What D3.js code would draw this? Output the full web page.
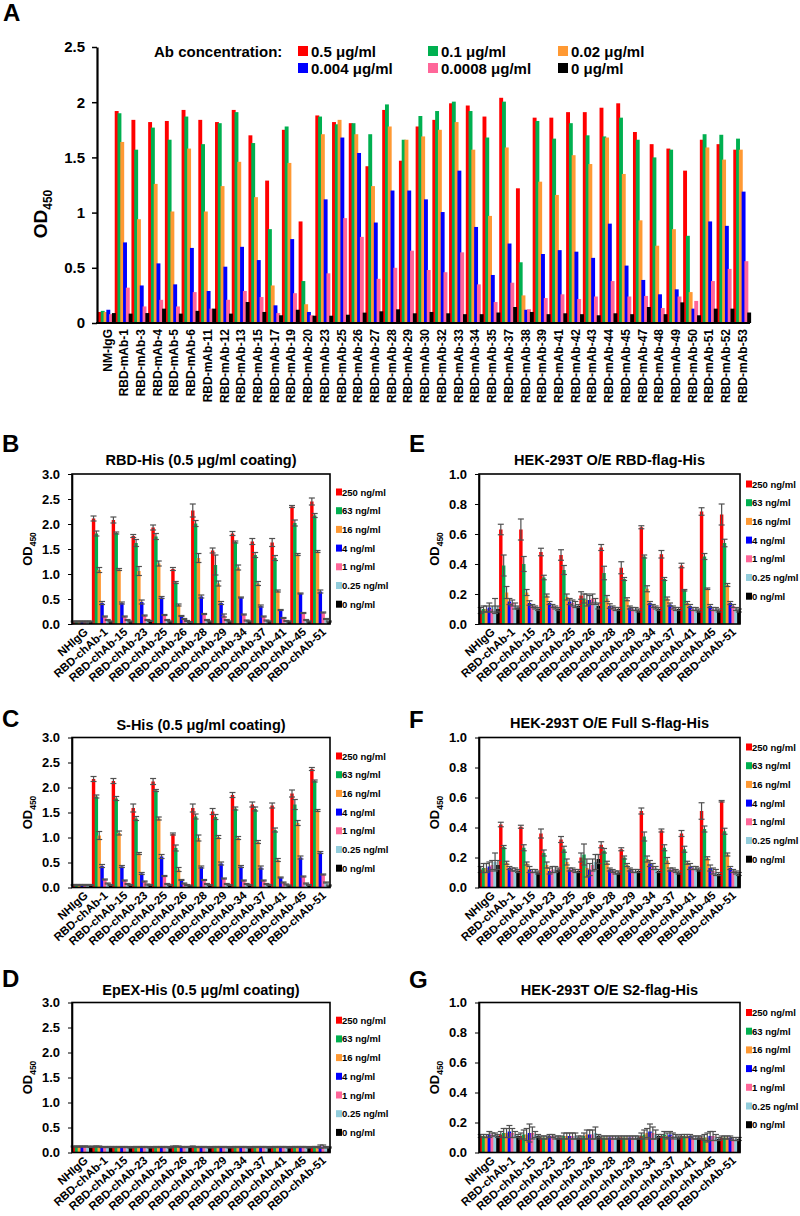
<!DOCTYPE html>
<html><head><meta charset="utf-8">
<script src="https://cdn.jsdelivr.net/npm/d3@7"></script>
<style>
body{margin:0;background:#fff}
svg{display:block}
text{font-family:"Liberation Sans",Arial,sans-serif;font-weight:bold;fill:#000}
</style>
</head><body>
<svg id="c" width="800" height="1216"></svg>
<script>
// ---------------- Panel A data ----------------
const catsA = ["NM-IgG","RBD-mAb-1","RBD-mAb-3","RBD-mAb-4","RBD-mAb-5","RBD-mAb-6","RBD-mAb-11","RBD-mAb-12","RBD-mAb-13","RBD-mAb-15","RBD-mAb-17","RBD-mAb-19","RBD-mAb-20","RBD-mAb-23","RBD-mAb-25","RBD-mAb-26","RBD-mAb-27","RBD-mAb-28","RBD-mAb-29","RBD-mAb-30","RBD-mAb-32","RBD-mAb-33","RBD-mAb-34","RBD-mAb-35","RBD-mAb-37","RBD-mAb-38","RBD-mAb-39","RBD-mAb-41","RBD-mAb-42","RBD-mAb-43","RBD-mAb-44","RBD-mAb-45","RBD-mAb-47","RBD-mAb-48","RBD-mAb-49","RBD-mAb-50","RBD-mAb-51","RBD-mAb-52","RBD-mAb-53"];
const concA = ["0.5 μg/ml","0.1 μg/ml","0.02 μg/ml","0.004 μg/ml","0.0008 μg/ml","0 μg/ml"];
const colorsA = ["#ff0000","#00b050","#ff9933","#0000ff","#ff6699","#000000"];
const A_05    = [0.10,1.92,1.84,1.82,1.83,1.93,1.84,1.82,1.93,1.70,1.29,1.75,0.92,1.88,1.82,1.81,1.42,1.93,1.47,1.78,1.84,1.99,1.97,1.87,2.04,1.22,1.86,1.86,1.91,1.91,1.95,1.99,1.73,1.62,1.58,1.38,1.66,1.62,1.57];
const A_01    = [0.11,1.90,1.57,1.77,1.66,1.87,1.62,1.81,1.91,1.63,0.85,1.78,0.38,1.87,1.80,1.81,1.71,1.98,1.66,1.875,1.92,2.005,1.92,1.68,2.005,0.55,1.83,1.67,1.81,1.70,1.69,1.86,1.66,1.50,1.57,0.79,1.71,1.705,1.67];
const A_002   = [0.10,1.64,0.94,1.26,1.01,1.58,1.01,1.24,1.46,1.14,0.34,1.45,0.17,1.71,1.84,1.71,1.24,1.78,1.66,1.69,1.75,1.82,1.57,0.97,1.59,0.25,1.28,1.16,1.52,1.44,1.68,1.35,0.93,0.70,0.85,0.28,1.59,1.48,1.57];
const A_0004  = [0.12,0.73,0.34,0.54,0.35,0.68,0.29,0.51,0.69,0.57,0.16,0.76,0.10,1.12,1.68,1.54,0.91,1.20,1.20,1.12,1.005,1.38,0.87,0.435,0.72,0.12,0.625,0.66,0.646,0.59,0.90,0.52,0.39,0.26,0.305,0.13,0.92,0.88,1.19];
const A_00008 = [0.08,0.32,0.15,0.21,0.15,0.28,0.13,0.21,0.29,0.235,0.09,0.27,0.07,0.45,0.95,0.78,0.40,0.50,0.655,0.48,0.46,0.64,0.35,0.19,0.365,0.125,0.226,0.26,0.217,0.24,0.38,0.24,0.245,0.136,0.24,0.20,0.38,0.49,0.56];
const A_0     = [0.09,0.085,0.09,0.13,0.085,0.11,0.13,0.085,0.19,0.10,0.07,0.12,0.066,0.066,0.075,0.094,0.106,0.124,0.088,0.10,0.088,0.08,0.08,0.095,0.145,0.10,0.08,0.088,0.08,0.07,0.088,0.08,0.145,0.08,0.187,0.07,0.13,0.13,0.095];
const ticksA = [0,0.5,1,1.5,2,2.5];

// ---------------- Panels B-G data ----------------
const catsCh = ["NHIgG","RBD-chAb-1","RBD-chAb-15","RBD-chAb-23","RBD-chAb-25","RBD-chAb-26","RBD-chAb-28","RBD-chAb-29","RBD-chAb-34","RBD-chAb-37","RBD-chAb-41","RBD-chAb-45","RBD-chAb-51"];
const concCh = ["250 ng/ml","63 ng/ml","16 ng/ml","4 ng/ml","1 ng/ml","0.25 ng/ml","0 ng/ml"];
const colorsCh = ["#ff0000","#00b050","#ff9933","#0000ff","#ff6699","#92cddc","#000000"];
const ticksLeft = [0,0.5,1,1.5,2,2.5,3];
const ticksRight = [0,0.2,0.4,0.6,0.8,1.0];

// B: RBD-His
const B_values = [
  [0.05,2.11,2.08,1.76,1.93,1.10,2.27,1.47,1.81,1.65,1.63,2.35,2.45],
  [0.05,1.81,1.82,1.62,1.75,0.83,2.01,1.18,1.64,1.38,1.32,2.02,2.17],
  [0.05,1.08,1.09,1.06,1.21,0.38,1.32,0.81,1.13,0.81,0.66,1.39,1.45],
  [0.05,0.42,0.42,0.44,0.53,0.16,0.55,0.42,0.53,0.36,0.28,0.61,0.65],
  [0.05,0.15,0.15,0.17,0.18,0.10,0.20,0.17,0.19,0.15,0.12,0.22,0.23],
  [0.05,0.08,0.08,0.08,0.08,0.06,0.08,0.08,0.07,0.07,0.06,0.08,0.10],
  [0.05,0.05,0.05,0.06,0.05,0.04,0.05,0.05,0.05,0.05,0.05,0.05,0.05]];
const B_errors = [
  [0.01,0.05,0.06,0.03,0.05,0.03,0.13,0.05,0.04,0.06,0.08,0.02,0.07],
  [0.01,0.05,0.02,0.07,0.06,0.02,0.06,0.20,0.02,0.05,0.05,0.06,0.04],
  [0.01,0.05,0.02,0.09,0.05,0.02,0.09,0.05,0.05,0.04,0.02,0.02,0.02],
  [0.01,0.03,0.02,0.04,0.02,0.01,0.03,0.03,0.01,0.02,0.01,0.01,0.03],
  [0.01,0.01,0.01,0.01,0.01,0.01,0.01,0.03,0.01,0.01,0.01,0.01,0.01],
  [0.01,0.01,0.01,0.01,0.01,0.01,0.01,0.01,0.01,0.01,0.01,0.01,0.01],
  [0.01,0.01,0.01,0.01,0.01,0.01,0.01,0.01,0.01,0.01,0.01,0.01,0.01]];

// C: S-His
const C_values = [
  [0.05,2.17,2.13,1.59,2.12,1.07,1.59,1.52,1.85,1.66,1.64,1.88,2.37],
  [0.05,1.82,1.78,1.38,1.94,0.79,1.42,1.41,1.58,1.57,1.15,1.66,2.13],
  [0.05,1.04,1.09,0.68,1.38,0.36,0.99,1.01,0.99,0.91,0.55,1.29,1.54],
  [0.05,0.43,0.42,0.28,0.62,0.15,0.41,0.48,0.42,0.40,0.20,0.60,0.70],
  [0.05,0.16,0.14,0.12,0.23,0.08,0.15,0.18,0.14,0.14,0.10,0.22,0.26],
  [0.05,0.08,0.07,0.06,0.07,0.05,0.07,0.07,0.07,0.07,0.06,0.08,0.10],
  [0.05,0.05,0.05,0.05,0.05,0.04,0.05,0.05,0.05,0.05,0.04,0.05,0.04]];
const C_errors = [
  [0.01,0.05,0.05,0.08,0.06,0.02,0.08,0.06,0.05,0.05,0.05,0.07,0.03],
  [0.01,0.03,0.04,0.04,0.02,0.06,0.05,0.05,0.03,0.04,0.04,0.10,0.02],
  [0.01,0.08,0.04,0.02,0.03,0.04,0.06,0.03,0.03,0.03,0.03,0.05,0.02],
  [0.01,0.03,0.02,0.02,0.04,0.01,0.02,0.03,0.02,0.03,0.01,0.03,0.02],
  [0.01,0.01,0.01,0.01,0.01,0.01,0.01,0.01,0.01,0.01,0.01,0.01,0.01],
  [0.01,0.01,0.01,0.01,0.01,0.01,0.01,0.01,0.01,0.01,0.01,0.01,0.01],
  [0.01,0.01,0.01,0.01,0.01,0.01,0.01,0.01,0.01,0.01,0.01,0.01,0.01]];

// D: EpEX-His
const D_values = [
  [0.12,0.12,0.11,0.11,0.11,0.12,0.12,0.11,0.11,0.11,0.11,0.11,0.11],
  [0.12,0.12,0.11,0.11,0.11,0.12,0.11,0.11,0.11,0.11,0.11,0.11,0.11],
  [0.12,0.12,0.11,0.11,0.11,0.12,0.11,0.11,0.11,0.11,0.11,0.11,0.11],
  [0.12,0.11,0.11,0.11,0.11,0.11,0.11,0.11,0.11,0.11,0.11,0.11,0.12],
  [0.12,0.11,0.11,0.11,0.11,0.11,0.11,0.11,0.11,0.11,0.11,0.11,0.12],
  [0.12,0.11,0.11,0.11,0.11,0.11,0.11,0.11,0.11,0.11,0.11,0.11,0.11],
  [0.11,0.11,0.10,0.10,0.10,0.11,0.10,0.10,0.10,0.10,0.10,0.10,0.10]];
const D_errors = [
  [0.01,0.01,0.01,0.01,0.01,0.01,0.01,0.01,0.01,0.01,0.01,0.01,0.01],
  [0.01,0.01,0.01,0.01,0.01,0.01,0.01,0.01,0.01,0.01,0.01,0.01,0.01],
  [0.01,0.01,0.01,0.01,0.01,0.01,0.01,0.01,0.01,0.01,0.01,0.01,0.01],
  [0.01,0.01,0.01,0.01,0.01,0.01,0.01,0.01,0.01,0.01,0.01,0.01,0.03],
  [0.01,0.01,0.01,0.01,0.01,0.01,0.01,0.01,0.01,0.01,0.01,0.01,0.03],
  [0.01,0.01,0.01,0.01,0.01,0.01,0.01,0.01,0.01,0.01,0.01,0.01,0.01],
  [0.01,0.01,0.01,0.01,0.01,0.01,0.01,0.01,0.01,0.01,0.01,0.01,0.01]];

// E: HEK-293T O/E RBD-flag-His
const E_values = [
  [0.09,0.63,0.63,0.48,0.46,0.19,0.51,0.375,0.645,0.465,0.39,0.75,0.73],
  [0.10,0.39,0.40,0.31,0.36,0.17,0.34,0.30,0.45,0.30,0.225,0.45,0.54],
  [0.10,0.21,0.21,0.19,0.18,0.16,0.17,0.165,0.235,0.17,0.14,0.235,0.26],
  [0.11,0.15,0.14,0.14,0.15,0.16,0.12,0.11,0.14,0.13,0.12,0.12,0.14],
  [0.10,0.14,0.12,0.12,0.14,0.17,0.11,0.10,0.12,0.11,0.10,0.10,0.12],
  [0.12,0.12,0.11,0.11,0.13,0.15,0.10,0.10,0.11,0.10,0.10,0.10,0.10],
  [0.10,0.11,0.10,0.10,0.12,0.12,0.10,0.09,0.10,0.10,0.09,0.09,0.09]];
const E_errors = [
  [0.02,0.035,0.07,0.025,0.035,0.025,0.02,0.04,0.01,0.025,0.015,0.025,0.07],
  [0.02,0.07,0.05,0.015,0.03,0.03,0.045,0.01,0.01,0.01,0.005,0.02,0.025],
  [0.02,0.04,0.02,0.01,0.02,0.04,0.02,0.01,0.02,0.01,0.01,0.005,0.01],
  [0.03,0.02,0.015,0.01,0.02,0.03,0.015,0.01,0.01,0.01,0.01,0.01,0.01],
  [0.02,0.02,0.01,0.01,0.02,0.03,0.01,0.01,0.01,0.01,0.01,0.01,0.01],
  [0.05,0.02,0.01,0.01,0.02,0.02,0.01,0.01,0.01,0.01,0.01,0.01,0.01],
  [0.02,0.01,0.01,0.01,0.01,0.02,0.01,0.01,0.01,0.01,0.01,0.01,0.01]];

// F: HEK-293T O/E Full S-flag-His
const F_values = [
  [0.12,0.42,0.405,0.36,0.32,0.20,0.285,0.255,0.51,0.38,0.36,0.51,0.575],
  [0.13,0.27,0.265,0.23,0.255,0.22,0.245,0.20,0.34,0.265,0.255,0.39,0.375],
  [0.13,0.165,0.16,0.15,0.17,0.13,0.165,0.15,0.19,0.18,0.165,0.195,0.22],
  [0.14,0.13,0.12,0.11,0.12,0.12,0.12,0.12,0.16,0.12,0.14,0.13,0.13],
  [0.15,0.12,0.11,0.12,0.12,0.15,0.11,0.11,0.14,0.12,0.13,0.11,0.11],
  [0.17,0.12,0.11,0.12,0.11,0.17,0.10,0.11,0.13,0.11,0.13,0.10,0.10],
  [0.15,0.11,0.10,0.12,0.11,0.19,0.10,0.11,0.11,0.10,0.12,0.09,0.09]];
const F_errors = [
  [0.02,0.015,0.01,0.03,0.02,0.03,0.02,0.01,0.02,0.01,0.02,0.055,0.005],
  [0.03,0.01,0.02,0.02,0.02,0.07,0.015,0.01,0.03,0.02,0.02,0.02,0.02],
  [0.03,0.01,0.01,0.02,0.02,0.06,0.01,0.01,0.02,0.02,0.01,0.01,0.01],
  [0.03,0.01,0.02,0.02,0.01,0.04,0.01,0.01,0.02,0.01,0.02,0.02,0.01],
  [0.03,0.01,0.01,0.02,0.01,0.04,0.01,0.01,0.02,0.01,0.01,0.02,0.01],
  [0.06,0.01,0.01,0.02,0.01,0.05,0.01,0.01,0.01,0.01,0.01,0.02,0.01],
  [0.03,0.01,0.01,0.01,0.01,0.03,0.01,0.01,0.01,0.01,0.01,0.01,0.01]];

// G: HEK-293T O/E S2-flag-His
const G_values = [
  [0.11,0.12,0.11,0.10,0.10,0.10,0.10,0.10,0.11,0.11,0.11,0.10,0.10],
  [0.11,0.13,0.12,0.10,0.11,0.11,0.10,0.10,0.12,0.12,0.11,0.10,0.10],
  [0.11,0.13,0.12,0.10,0.11,0.12,0.10,0.10,0.13,0.11,0.11,0.10,0.10],
  [0.12,0.14,0.13,0.11,0.11,0.12,0.10,0.10,0.14,0.12,0.11,0.11,0.10],
  [0.12,0.13,0.13,0.11,0.11,0.12,0.10,0.10,0.13,0.11,0.10,0.11,0.09],
  [0.12,0.12,0.12,0.10,0.11,0.13,0.10,0.10,0.12,0.11,0.10,0.10,0.09],
  [0.11,0.11,0.11,0.10,0.10,0.11,0.10,0.10,0.11,0.10,0.10,0.09,0.09]];
const G_errors = [
  [0.01,0.02,0.02,0.01,0.01,0.01,0.01,0.01,0.02,0.01,0.01,0.01,0.01],
  [0.01,0.03,0.03,0.01,0.02,0.02,0.01,0.01,0.03,0.02,0.01,0.02,0.01],
  [0.01,0.03,0.04,0.01,0.02,0.03,0.01,0.01,0.03,0.02,0.01,0.03,0.01],
  [0.02,0.04,0.06,0.01,0.02,0.03,0.01,0.01,0.05,0.02,0.01,0.03,0.01],
  [0.01,0.03,0.04,0.01,0.02,0.03,0.01,0.01,0.04,0.02,0.01,0.03,0.01],
  [0.01,0.02,0.02,0.01,0.02,0.04,0.01,0.01,0.03,0.01,0.01,0.02,0.01],
  [0.01,0.01,0.01,0.01,0.01,0.01,0.01,0.01,0.01,0.01,0.01,0.01,0.01]];

// ---------------- Drawing ----------------
const svg = d3.select("#c");

// Panel A
(function(){
  const series = [A_05, A_01, A_002, A_0004, A_00008, A_0];
  const x = d3.scaleBand().domain(catsA).range([98, 750]).padding(0);
  const xi = d3.scaleBand().domain(d3.range(series.length)).range([0, x.bandwidth()]);
  const y = d3.scaleLinear().domain([0, 2.5]).range([323, 47]);
  const g = svg.append("g");
  svg.append("text").attr("x", 3).attr("y", 21).attr("font-size", 24).text("A");
  series.forEach((vals, si) => {
    g.selectAll(null).data(vals).enter().append("rect")
      .attr("x", (d, i) => x(catsA[i]) + xi(si))
      .attr("width", xi.bandwidth() * 1.4)
      .attr("y", d => y(d))
      .attr("height", d => y(0) - y(d))
      .attr("fill", colorsA[si]);
  });
  const ax = svg.append("g").attr("transform", "translate(97,0)")
    .call(d3.axisLeft(y).tickValues(ticksA).tickFormat(d => d).tickSize(5).tickPadding(7).tickSizeOuter(0));
  ax.select(".domain").attr("stroke-width", 2.2);
  ax.selectAll(".tick line").attr("stroke-width", 1.5);
  ax.selectAll("text").attr("font-size", 15).style("font-family", "Liberation Sans, Arial").style("font-weight", "bold");
  svg.append("line").attr("x1", 96).attr("x2", 750).attr("y1", y(0)).attr("y2", y(0)).attr("stroke", "#000").attr("stroke-width", 2.2);
  svg.append("g").selectAll("text").data(catsA).enter().append("text")
    .attr("transform", d => `translate(${x(d) + x.bandwidth() / 2 + 1},${y(0) + 6}) rotate(-90)`)
    .attr("text-anchor", "end").attr("dy", "0.35em").attr("font-size", 12).text(d => d);
  const yl = svg.append("text").attr("transform", "translate(47,214) rotate(-90)").attr("text-anchor", "middle").attr("font-size", 19);
  yl.append("tspan").text("OD");
  yl.append("tspan").attr("font-size", 12).attr("dy", 5).text("450");
  // legend
  svg.append("text").attr("x", 154).attr("y", 57).attr("font-size", 15).text("Ab concentration:");
  const lx = [298, 428, 558], ly = [51, 68];
  concA.forEach((c, i) => {
    const cx = lx[i % 3], cy = ly[Math.floor(i / 3)];
    svg.append("rect").attr("x", cx).attr("y", cy - 5).attr("width", 10).attr("height", 10).attr("fill", colorsA[i]);
    svg.append("text").attr("x", cx + 13).attr("y", cy + 5.5).attr("font-size", 15).text(c);
  });
})();

function panel(p) {
  const x = d3.scaleBand().domain(catsCh).range([p.left, p.right]).padding(0);
  const xi = d3.scaleBand().domain(d3.range(7)).range([0, x.bandwidth()]);
  const y = d3.scaleLinear().domain([0, p.max]).range([p.top + 150, p.top]);
  svg.append("text").attr("x", p.lx).attr("y", p.ly).attr("font-size", 24).text(p.letter);
  svg.append("text").attr("x", (p.left + p.right) / 2).attr("y", p.ty).attr("text-anchor", "middle").attr("font-size", 14.5).text(p.title);
  const g = svg.append("g");
  p.values.forEach((vals, si) => {
    g.selectAll(null).data(vals).enter().append("rect")
      .attr("x", (d, i) => x(catsCh[i]) + xi(si))
      .attr("width", xi.bandwidth() * 1.2)
      .attr("y", d => y(d))
      .attr("height", d => y(0) - y(d))
      .attr("fill", colorsCh[si]);
  });
  const eg = svg.append("g").attr("stroke", "#505050").attr("stroke-width", 1.2);
  p.values.forEach((vals, si) => {
    vals.forEach((v, i) => {
      const e = p.errors[si][i];
      const cx = x(catsCh[i]) + xi(si) + xi.bandwidth() * 0.6;
      const y1 = y(v + e), y2 = y(Math.max(0, v - e));
      eg.append("line").attr("x1", cx).attr("x2", cx).attr("y1", y1).attr("y2", y2);
      eg.append("line").attr("x1", cx - 3).attr("x2", cx + 3).attr("y1", y1).attr("y2", y1);
      eg.append("line").attr("x1", cx - 3).attr("x2", cx + 3).attr("y1", y2).attr("y2", y2);
    });
  });
  svg.append("rect").attr("x", p.left).attr("y", p.top).attr("width", p.right - p.left).attr("height", 150)
    .attr("fill", "none").attr("stroke", "#000").attr("stroke-width", 1.6);
  const ax = svg.append("g").attr("transform", `translate(${p.left},0)`)
    .call(d3.axisLeft(y).tickValues(p.ticks).tickFormat(d3.format(".1f")).tickSize(4).tickPadding(8).tickSizeOuter(0));
  ax.select(".domain").attr("stroke-width", 1.6);
  ax.selectAll("text").attr("font-size", 13).style("font-family", "Liberation Sans, Arial").style("font-weight", "bold");
  svg.append("g").selectAll("text").data(catsCh).enter().append("text")
    .attr("transform", d => `translate(${x(d) + x.bandwidth() / 2 + 4},${p.top + 156}) rotate(-42)`)
    .attr("text-anchor", "end").attr("dy", "0.35em").attr("font-size", 11.5).text(d => d);
  const yl = svg.append("text").attr("transform", `translate(${p.left - 40},${p.top + 75}) rotate(-90)`).attr("text-anchor", "middle").attr("font-size", 13);
  yl.append("tspan").text("OD");
  yl.append("tspan").attr("font-size", 8.5).attr("dy", 3.5).text("450");
  concCh.forEach((c, i) => {
    const cy = p.top + p.leg0 + i * 18.7;
    svg.append("rect").attr("x", p.right + 6).attr("y", cy - 3.5).attr("width", 6).attr("height", 7).attr("fill", colorsCh[i]);
    svg.append("text").attr("x", p.right + 12).attr("y", cy + 3.5).attr("font-size", 9.5).text(c);
  });
}

panel({letter: "B", lx: 2, ly: 452, title: "RBD-His (0.5 μg/ml coating)", ty: 465, left: 72, right: 330, top: 474, max: 3, ticks: ticksLeft, values: B_values, errors: B_errors, leg0: 18});
panel({letter: "C", lx: 2, ly: 727, title: "S-His (0.5 μg/ml coating)", ty: 730, left: 72, right: 330, top: 737.5, max: 3, ticks: ticksLeft, values: C_values, errors: C_errors, leg0: 18.5});
panel({letter: "D", lx: 2, ly: 987, title: "EpEX-His (0.5 μg/ml coating)", ty: 995, left: 72, right: 330, top: 1002.5, max: 3, ticks: ticksLeft, values: D_values, errors: D_errors, leg0: 17.7});
panel({letter: "E", lx: 409, ly: 452, title: "HEK-293T O/E RBD-flag-His", ty: 465, left: 479, right: 740, top: 474, max: 1, ticks: ticksRight, values: E_values, errors: E_errors, leg0: 10});
panel({letter: "F", lx: 409, ly: 728, title: "HEK-293T O/E Full S-flag-His", ty: 728, left: 479, right: 740, top: 737.5, max: 1, ticks: ticksRight, values: F_values, errors: F_errors, leg0: 9.5});
panel({letter: "G", lx: 409, ly: 988, title: "HEK-293T O/E S2-flag-His", ty: 995, left: 479, right: 740, top: 1002.5, max: 1, ticks: ticksRight, values: G_values, errors: G_errors, leg0: 10});
</script>
</body></html>
